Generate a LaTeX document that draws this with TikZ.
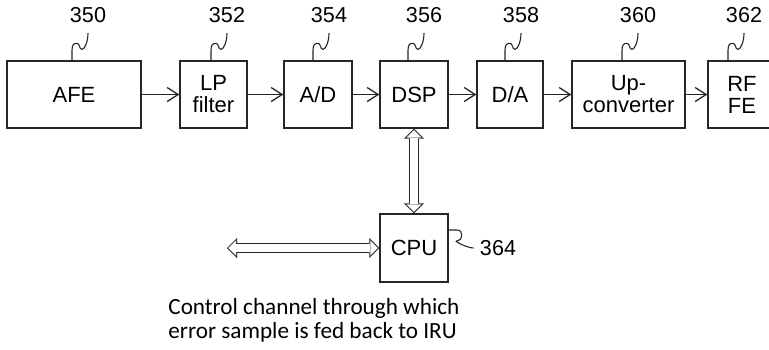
\documentclass[tikz,border=0pt]{standalone}
\usepackage{fontspec}
\setmainfont{Liberation Sans}
\newfontfamily\notefont{Carlito}
\usetikzlibrary{arrows.meta,calc,positioning}

\tikzset{
  blk/.style={draw=black!85,line width=0.65pt,minimum height=33.5pt,align=center,inner sep=1pt},
  refno/.style={inner sep=0pt,font=\fontsize{10.8}{11}\selectfont},
  squig/.style={to path={-- ++(0,-10) .. controls +(0,-6) and +(-3,0) .. ++(5,-7)
      .. controls +(3,0) and +(-3,0) .. ++(5,6) .. controls +(3,0) and +(0,8) .. (\tikztotarget)}},
  busout/.style={draw=black!85,line width=5pt,
      {Triangle[length=5pt,width=10pt,line width=0pt]}-{Triangle[length=5pt,width=10pt,line width=0pt]}},
  busin/.style={draw=white,line width=3.9pt,shorten <=0.71pt,shorten >=0.71pt,
      {Triangle[length=3.8pt,width=7.6pt,line width=0pt]}-{Triangle[length=3.8pt,width=7.6pt,line width=0pt]}}
}
\newcommand\buslink[2]{\draw[busout] (#1) -- (#2); \draw[busin] (#1) -- (#2);}

\begin{document}
\begin{tikzpicture}[x=0.5pt,y=-0.5pt,>={Straight Barb[length=5.5pt,width=7pt]},
  every node/.style={font=\fontsize{11}{11}\selectfont}]
  \path[use as bounding box,clip] (0,0) rectangle (769,349);

  % signal chain
  \node[blk,minimum width=67pt] (afe) at (74,94.5) {AFE};
  \node[blk,minimum width=33.5pt] (lpf) at (213.5,94.5) {LP\\filter};
  \node[blk,minimum width=34pt] (adc) at (318,94.5) {A/D};
  \node[blk,minimum width=34pt] (dsp) at (414,94.5) {DSP};
  \node[blk,minimum width=33pt] (dac) at (510,94.5) {D/A};
  \node[blk,minimum width=56.5pt] (upc) at (628.5,94.5) {Up-\\converter};
  \node[blk,minimum width=34pt] (rffe) at (742,94.5) {RF\\FE};
  \node[blk,minimum width=34pt,minimum height=34pt] (cpu) at (414,248) {CPU};

  \draw[->,black!85,line width=0.65pt] (afe) -- (lpf);
  \draw[->,black!85,line width=0.65pt] (lpf) -- (adc);
  \draw[->,black!85,line width=0.65pt] (adc) -- (dsp);
  \draw[->,black!85,line width=0.65pt] (dsp) -- (dac);
  \draw[->,black!85,line width=0.65pt] (dac) -- (upc);
  \draw[->,black!85,line width=0.65pt] (upc) -- (rffe);

  % reference numerals
  \node[refno] (n350) at (88,15) {350};
  \node[refno] (n352) at (227,15) {352};
  \node[refno] (n354) at (329,15) {354};
  \node[refno] (n356) at (424,15) {356};
  \node[refno] (n358) at (521,15) {358};
  \node[refno] (n360) at (638,15) {360};
  \node[refno] (n362) at (744,15) {362};
  \node[refno] (n364) at (498,248) {364};

  \foreach \b/\n in {afe/n350,lpf/n352,adc/n354,dsp/n356,dac/n358,upc/n360,rffe/n362}
    \draw[black!85,line width=0.55pt,squig] ([xshift=-8pt]\n.south |- \b.north) to ([yshift=-5pt]\n.south);
  \draw[black!85,line width=0.55pt] ([yshift=9pt]cpu.east) -- ++(8,0)
    .. controls +(4,0) and +(0,-3) .. ++(5,5) .. controls +(0,4) and +(3,0) .. ++(-5,6)
    .. controls +(-3,0) and +(-6,0) .. ([xshift=-3pt]n364.west);

  % control paths
  \coordinate (ctl) at (227,248);
  \buslink{dsp.south}{cpu.north}
  \buslink{ctl}{cpu.west}

  \node[anchor=north west,align=left,inner sep=0pt,font=\notefont\fontsize{11.6}{12}\selectfont] (note) at (168,298)
    {Control channel through which\\error sample is fed back to IRU};
\end{tikzpicture}
\end{document}
